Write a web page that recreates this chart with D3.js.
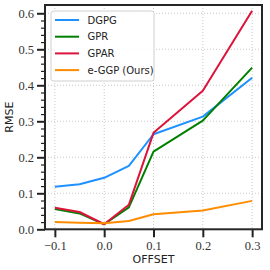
<!DOCTYPE html>
<html><head><meta charset="utf-8">
<script src="https://cdn.jsdelivr.net/npm/d3@7"></script>
<style>body{margin:0;background:#fff}svg{display:block}</style>
</head><body><svg id="c" width="270" height="270"></svg>
<script>
const offsets = [-0.1, -0.05, 0.0, 0.05, 0.1, 0.2, 0.3];
const dgpg = [0.118, 0.125, 0.143, 0.176, 0.264, 0.313, 0.421];
const gpr  = [0.056, 0.044, 0.014, 0.061, 0.216, 0.302, 0.449];
const gpar = [0.060, 0.048, 0.014, 0.068, 0.268, 0.385, 0.607];
const eggp = [0.020, 0.018, 0.017, 0.023, 0.042, 0.052, 0.079];
const seriesNames = ["DGPG", "GPR", "GPAR", "e-GGP (Ours)"];
const seriesColors = ["#1E90FF", "#008000", "#DC143C", "#FF8C00"];
const xTicks = [-0.1, 0.0, 0.1, 0.2, 0.3];
const yTicks = [0.0, 0.1, 0.2, 0.3, 0.4, 0.5, 0.6];

const series = [dgpg, gpr, gpar, eggp];
const L = 45, R = 262, T = 5, B = 229.3;
const svg = d3.select("#c");
const x = d3.scaleLinear().domain([-0.12, 0.32]).range([L, R]);
const y = d3.scaleLinear().domain([0, 0.623]).range([B, T]);

// grid
const g = svg.append("g");
g.selectAll(".gx").data(xTicks).enter().append("line")
  .attr("x1", d => x(d)).attr("x2", d => x(d)).attr("y1", T).attr("y2", B)
  .attr("stroke", "#c8c8c8").attr("stroke-width", 1).attr("stroke-dasharray", "1,2");
g.selectAll(".gy").data(yTicks.filter(d => d > 0)).enter().append("line")
  .attr("y1", d => y(d)).attr("y2", d => y(d)).attr("x1", L).attr("x2", R)
  .attr("stroke", "#c8c8c8").attr("stroke-width", 1).attr("stroke-dasharray", "1,2");

// lines
const line = d3.line().x((d, i) => x(offsets[i])).y(d => y(d));
series.forEach((s, k) => {
  svg.append("path").datum(s).attr("d", line).attr("fill", "none")
    .attr("stroke", seriesColors[k]).attr("stroke-width", 2).attr("stroke-linejoin", "round");
});

// axes
const fmt = d3.format(".1f");
const xa = svg.append("g").attr("transform", `translate(0,${B})`)
  .call(d3.axisBottom(x).tickValues(xTicks).tickFormat(fmt).tickSize(8).tickPadding(4));
const ya = svg.append("g").attr("transform", `translate(${L},0)`)
  .call(d3.axisLeft(y).tickValues(yTicks).tickFormat(fmt).tickSize(8).tickPadding(3));
const minor = d3.range(0.02, 0.62, 0.02).filter(v => Math.abs(v * 10 - Math.round(v * 10)) > 1e-6);
svg.append("g").attr("transform", `translate(${L},0)`)
  .call(d3.axisLeft(y).tickValues(minor).tickFormat("").tickSize(4))
  .call(a => a.select(".domain").remove())
  .selectAll("line").attr("stroke", "#222").attr("stroke-width", 1.2);
[xa, ya].forEach(a => {
  a.select(".domain").remove();
  a.selectAll(".tick line").attr("stroke", "#222").attr("stroke-width", 2);
  a.selectAll("text").attr("font-family", "'Liberation Serif', serif").attr("font-size", 12.5).attr("fill", "#333");
});

// frame
svg.append("rect").attr("x", L).attr("y", T).attr("width", R - L).attr("height", B - T)
  .attr("fill", "none").attr("stroke", "#262626").attr("stroke-width", 2);

// labels
svg.append("text").attr("x", (L + R) / 2).attr("y", 263).attr("text-anchor", "middle")
  .attr("font-family", "'DejaVu Sans', sans-serif").attr("font-size", 11).attr("fill", "#222").text("OFFSET");
svg.append("text").attr("transform", `translate(13,${(T + B) / 2}) rotate(-90)`).attr("text-anchor", "middle")
  .attr("font-family", "'DejaVu Sans', sans-serif").attr("font-size", 11).attr("fill", "#222").text("RMSE");

// legend
const lg = svg.append("g");
lg.append("rect").attr("x", 51).attr("y", 11).attr("width", 103).attr("height", 70).attr("rx", 2.5)
  .attr("fill", "#fff").attr("fill-opacity", 0.85).attr("stroke", "#d0d0d0").attr("stroke-width", 1);
seriesNames.forEach((n, i) => {
  const yy = 20 + i * 16.7;
  lg.append("line").attr("x1", 55).attr("x2", 79).attr("y1", yy).attr("y2", yy)
    .attr("stroke", seriesColors[i]).attr("stroke-width", 2);
  lg.append("text").attr("x", 87.5).attr("y", yy).attr("dy", "0.35em")
    .attr("font-family", "'DejaVu Sans', sans-serif").attr("font-size", 10).attr("fill", "#222").text(n);
});
</script></body></html>
